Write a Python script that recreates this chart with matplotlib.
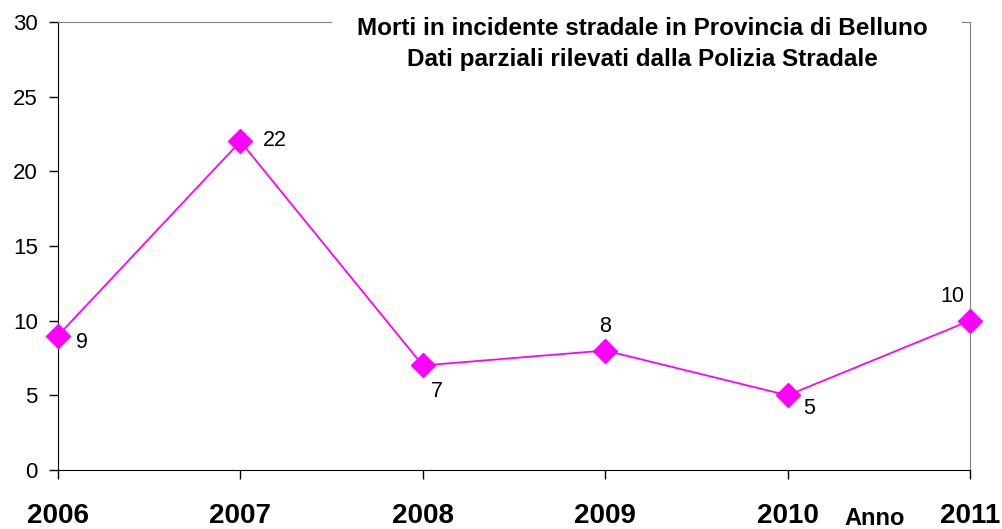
import matplotlib
matplotlib.use("Agg")
import matplotlib.pyplot as plt
from matplotlib.patches import Rectangle

anni = [2006, 2007, 2008, 2009, 2010, 2011]
morti = [9, 22, 7, 8, 5, 10]
# where each value label sits relative to its point (pixels)
label_offsets = [(24, -7), (34, 1), (14, -26), (0, 24), (22, -13), (-18, 24)]

plt.rcParams['font.family'] = ['Liberation Sans', 'DejaVu Sans']

fig = plt.figure(figsize=(10.02, 5.29), dpi=100)
ax = fig.add_axes([58/1002, 1-470/529, (970-58)/1002, (470-22)/529])

ax.plot(anni, morti, color='#ff00ff', lw=1.3, marker='D', markersize=12.5,
        markerfacecolor='#ff00ff', markeredgecolor='#ff00ff', zorder=3, clip_on=False)

for x, y, (dx, dy) in zip(anni, morti, label_offsets):
    ax.annotate(str(y), (x, y), xytext=(dx*0.72, dy*0.72), textcoords='offset points',
                ha='center', va='center', fontsize=15.5)

ax.set_xlim(2006, 2011)
ax.set_ylim(0, 30)
ax.set_yticks(range(0, 31, 5))
ax.set_xticks(anni)
ax.set_xticklabels([str(a) for a in anni], fontsize=20, fontweight='bold')
ax.tick_params(axis='x', length=6.5, width=1, pad=17)
ax.tick_params(axis='y', length=6.5, width=1, labelsize=16, pad=8)

for s in ['left', 'bottom']:
    ax.spines[s].set_color('#000000')
for s in ['top', 'right']:
    ax.spines[s].set_color('#808080')

fig.text(875/1002, 1-525/529, 'Anno', fontsize=17, fontweight='bold',
         ha='center', va='baseline')

# white box of the title breaks the top border
fig.patches.append(Rectangle((332/1002, 1-32/529), (962-332)/1002, 18/529,
                             transform=fig.transFigure, facecolor='white',
                             edgecolor='none', zorder=4))
fig.text(642/1002, 1-44/529,
         'Morti in incidente stradale in Provincia di Belluno\nDati parziali rilevati dalla Polizia Stradale',
         fontsize=17.5, fontweight='bold', ha='center', va='center', linespacing=1.4,
         zorder=5)

fig.savefig('out.png', dpi=100)
